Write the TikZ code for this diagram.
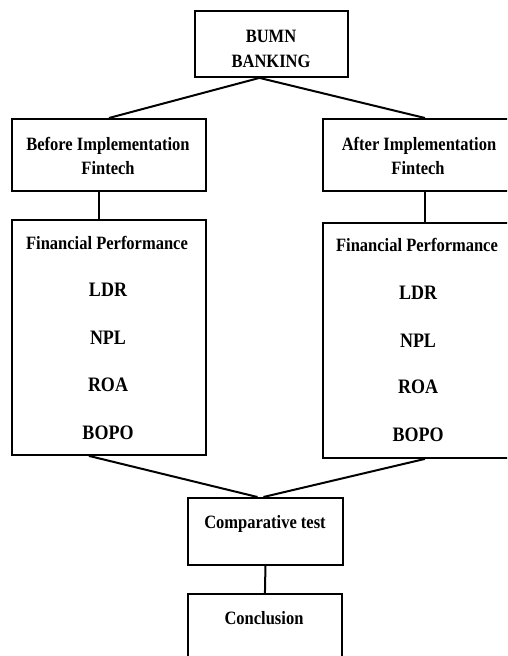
\documentclass[tikz,border=0pt]{standalone}
\usepackage{fontspec}
\setmainfont{Liberation Serif}
\usetikzlibrary{calc}
\newcommand{\tallbf}[1]{\scalebox{1}[1.14]{#1}}
\begin{document}
\begin{tikzpicture}[x=1pt,y=-1pt,
  box/.style={draw, line width=1.9pt, anchor=north west, inner sep=0pt},
  lbl/.style={anchor=base, inner sep=0pt,
    font=\fontsize{16.5}{24}\selectfont\bfseries},
  metric/.style={lbl, font=\fontsize{18}{24}\selectfont\bfseries},
  link/.style={line width=2pt}]
\useasboundingbox (0,0) rectangle (507,656);
\clip (0,0) rectangle (507,656);

% boxes
\node[box, minimum width=153pt, minimum height=66pt] (bumn) at (194,10) {};
\node[box, minimum width=194pt, minimum height=72pt] (before) at (11,118) {};
\node[box, minimum width=204pt, minimum height=72pt] (after) at (322,118) {};
\node[box, minimum width=194pt, minimum height=235pt] (fpl) at (11,219) {};
\node[box, minimum width=204pt, minimum height=235pt] (fpr) at (322,222) {};
\node[box, minimum width=155pt, minimum height=67pt] (comp) at (187,497) {};
\node[box, minimum width=154pt, minimum height=90pt] (concl) at (187,593) {};

% texts
\node[lbl] (tbumn1) at (271,42) {\tallbf{BUMN}};
\node[lbl] (tbumn2) at (271,67) {\tallbf{BANKING}};
\node[lbl] (tbefore1) at (108,150) {\tallbf{Before Implementation}};
\node[lbl] (tbefore2) at (108,174) {\tallbf{Fintech}};
\node[lbl] (tafter1) at (419,150) {\tallbf{After Implementation}};
\node[lbl] (tafter2) at (418,174) {\tallbf{Fintech}};

\node[lbl] (fpl0) at (107,249) {\tallbf{Financial Performance}};
\node[metric] (fpl1) at (108,296) {\tallbf{LDR}};
\node[metric] (fpl2) at (108,344) {\tallbf{NPL}};
\node[metric] (fpl3) at (108,391) {\tallbf{ROA}};
\node[metric] (fpl4) at (108,439) {\tallbf{BOPO}};

\node[lbl] (fpr0) at (417,251) {\tallbf{Financial Performance}};
\node[metric] (fpr1) at (418,299) {\tallbf{LDR}};
\node[metric] (fpr2) at (418,347) {\tallbf{NPL}};
\node[metric] (fpr3) at (418,393) {\tallbf{ROA}};
\node[metric] (fpr4) at (418,441) {\tallbf{BOPO}};

\node[lbl] (tcomp) at (265,528) {\tallbf{Comparative test}};
\node[lbl] (tconcl) at (264,624) {\tallbf{Conclusion}};

% connectors
\coordinate (bumnout) at ($(bumn.south)+(-12,0)$);
\draw[link] (bumnout) -- (before.north);
\draw[link] (bumnout) -- (after.north);
\draw[link] ($(before.south)+(-10,0)$) -- ($(fpl.north)+(-10,0)$);
\draw[link] (after.south) -- (fpr.north);
\draw[link] ($(fpl.south)+(-20,0)$) -- ($(comp.north)+(-8,0)$);
\draw[link] (fpr.south) -- ($(comp.north)+(-2,0)$);
\draw[link] (comp.south) -- (concl.north);
\end{tikzpicture}
\end{document}
